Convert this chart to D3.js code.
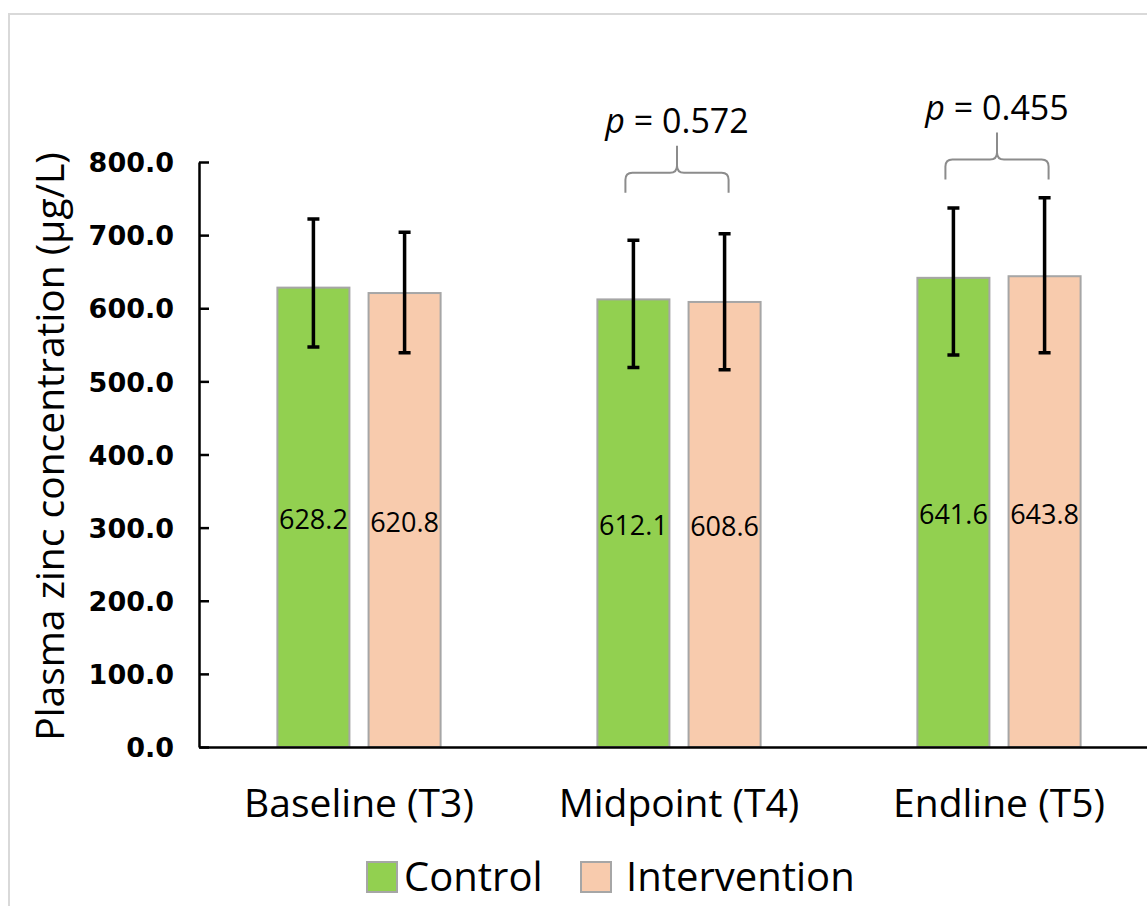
<!DOCTYPE html>
<html>
<head>
<meta charset="utf-8">
<script src="https://cdn.jsdelivr.net/npm/d3@7"></script>
<style>
	body { margin: 0; background: #fff; }
	svg { display: block; }
	.tick-label { font-family: "DejaVu Sans", Verdana, sans-serif; font-weight: bold; font-size: 27px; fill: #000; }
	.cat-label { font-family: "Open Sans", sans-serif; font-size: 39px; fill: #000; }
	.bar-label { font-family: "Open Sans", sans-serif; font-size: 27px; fill: #000; }
	.axis-title { font-family: "Open Sans", sans-serif; font-size: 39px; fill: #000; }
	.p-label { font-family: "Open Sans", sans-serif; font-size: 34px; fill: #000; }
	.legend-label { font-family: "Open Sans", sans-serif; font-size: 40px; fill: #000; }
</style>
</head>
<body>
<div id="wrapper"></div>
<script>

// 1. Data

const categories = ["Baseline (T3)", "Midpoint (T4)", "Endline (T5)"];
const series = ["Control", "Intervention"];
const controlValues = [628.2, 612.1, 641.6];
const interventionValues = [620.8, 608.6, 643.8];
const controlUpper = [722, 693, 737];
const controlLower = [547, 519, 536];
const interventionUpper = [704, 702, 751];
const interventionLower = [539, 516, 539];
const yTicks = [0, 100, 200, 300, 400, 500, 600, 700, 800];

// significance braces
const braceCategories = ["Midpoint (T4)", "Endline (T5)"];
const braceTexts = ["0.572", "0.455"];
const braceBaseValues = [758, 776];

const colors = { "Control": "#92d050", "Intervention": "#f8cbad" };

const rows = [];
categories.forEach((c, i) => {
	rows.push({ category: c, series: "Control", value: controlValues[i], upper: controlUpper[i], lower: controlLower[i] });
	rows.push({ category: c, series: "Intervention", value: interventionValues[i], upper: interventionUpper[i], lower: interventionLower[i] });
});

// 2. Dimensions

const dimensions = {
	width: 1147,
	height: 906,
	margin: { top: 162, left: 199, bottom: 159 }
};
dimensions.plotBottom = dimensions.height - dimensions.margin.bottom;
const plotRight = dimensions.margin.left + 3 * 320;

const svg = d3.select("#wrapper")
	.append("svg")
	.attr("width", dimensions.width)
	.attr("height", dimensions.height);

// outer frame
svg.append("path")
	.attr("d", `M9,${dimensions.height} V14 H${dimensions.width}`)
	.attr("fill", "none")
	.attr("stroke", "#d9d9d9")
	.attr("stroke-width", 2);

// 3. Scales

const xScale = d3.scaleBand()
	.domain(categories)
	.range([dimensions.margin.left, plotRight])
	.paddingInner(0.49)
	.paddingOuter(0.245);

const xSub = d3.scaleBand()
	.domain(series)
	.range([0, xScale.bandwidth()])
	.paddingInner(0.21);

const yScale = d3.scaleLinear()
	.domain([0, 800])
	.range([dimensions.plotBottom, dimensions.margin.top]);

// 4. Bars

const bars = svg.append("g");

bars.selectAll("rect")
	.data(rows)
	.join("rect")
	.attr("x", d => xScale(d.category) + xSub(d.series))
	.attr("width", xSub.bandwidth())
	.attr("y", d => yScale(d.value))
	.attr("height", d => yScale(0) - yScale(d.value))
	.attr("fill", d => colors[d.series])
	.attr("stroke", "#a6a6a6")
	.attr("stroke-width", 2);

bars.selectAll(".bar-label")
	.data(rows)
	.join("text")
	.attr("class", "bar-label")
	.attr("x", d => xScale(d.category) + xSub(d.series) + xSub.bandwidth() / 2)
	.attr("y", d => yScale(d.value / 2) + 12)
	.attr("text-anchor", "middle")
	.text(d => d.value.toFixed(1));

// error bars
const errors = svg.append("g")
	.attr("stroke", "#000")
	.attr("stroke-width", 3.5);

errors.selectAll(".err")
	.data(rows)
	.join("path")
	.attr("fill", "none")
	.attr("d", d => {
		const cx = xScale(d.category) + xSub(d.series) + xSub.bandwidth() / 2;
		const top = yScale(d.upper);
		const bottom = yScale(d.lower);
		return `M${cx},${top} V${bottom} M${cx - 6},${top} H${cx + 6} M${cx - 6},${bottom} H${cx + 6}`;
	});

// 5. Axes

const yAxis = d3.axisLeft(yScale)
	.tickValues(yTicks)
	.tickFormat(d3.format(".1f"))
	.tickSizeInner(-10)
	.tickSizeOuter(0)
	.tickPadding(25);

const yAxisGroup = svg.append("g")
	.attr("transform", `translate(${dimensions.margin.left},0)`)
	.call(yAxis);
yAxisGroup.select(".domain").attr("stroke", "#000").attr("stroke-width", 2.5);
yAxisGroup.selectAll(".tick line").attr("stroke", "#000").attr("stroke-width", 2.5);
yAxisGroup.selectAll(".tick text").attr("class", "tick-label").attr("dy", "0.36em");

const xAxis = d3.axisBottom(xScale)
	.tickSize(0)
	.tickPadding(42);

const xAxisGroup = svg.append("g")
	.attr("transform", `translate(0,${dimensions.plotBottom})`)
	.call(xAxis);
xAxisGroup.select(".domain").attr("stroke", "#000").attr("stroke-width", 2.5);
xAxisGroup.selectAll(".tick text").attr("class", "cat-label");

svg.append("text")
	.attr("class", "axis-title")
	.attr("transform", `translate(64, ${(dimensions.plotBottom + dimensions.margin.top) / 2 - 8}) rotate(-90)`)
	.attr("text-anchor", "middle")
	.text("Plasma zinc concentration (µg/L)");

// 6. Braces with p values

const braces = svg.append("g");

braceCategories.forEach((c, i) => {
	const x1 = xScale(c) + xSub.bandwidth() / 2 - 8;
	const x2 = xScale(c) + xSub("Intervention") + xSub.bandwidth() / 2 + 4;
	const mid = (x1 + x2) / 2;
	const bottom = yScale(braceBaseValues[i]);
	const line = bottom - 20;
	const peak = line - 27;
	const r = 7;
	braces.append("path")
		.attr("fill", "none")
		.attr("stroke", "#8c8c8c")
		.attr("stroke-width", 2)
		.attr("d", `M${x1},${bottom} V${line + r} Q${x1},${line} ${x1 + r},${line} H${mid - r} Q${mid},${line} ${mid},${line - r} V${peak}
			M${mid},${line - r} Q${mid},${line} ${mid + r},${line} H${x2 - r} Q${x2},${line} ${x2},${line + r} V${bottom}`);

	const label = braces.append("text")
		.attr("class", "p-label")
		.attr("x", mid)
		.attr("y", peak - 13)
		.attr("text-anchor", "middle");
	label.append("tspan").attr("font-style", "italic").text("p");
	label.append("tspan").text(` = ${braceTexts[i]}`);
});

// 7. Legend

const legend = svg.append("g")
	.attr("transform", `translate(367, 877)`);

const legendX = d3.scaleOrdinal()
	.domain(series)
	.range([0, 214]);

const legendItems = legend.selectAll("g")
	.data(series)
	.join("g")
	.attr("transform", d => `translate(${legendX(d)},0)`);

legendItems.append("rect")
	.attr("x", 0)
	.attr("y", -15)
	.attr("width", 30)
	.attr("height", 30)
	.attr("fill", d => colors[d])
	.attr("stroke", "#a6a6a6")
	.attr("stroke-width", 2);

legendItems.append("text")
	.attr("class", "legend-label")
	.attr("x", d => d === "Control" ? 37 : 45)
	.attr("y", 14)
	.text(d => d);

</script>
</body>
</html>
